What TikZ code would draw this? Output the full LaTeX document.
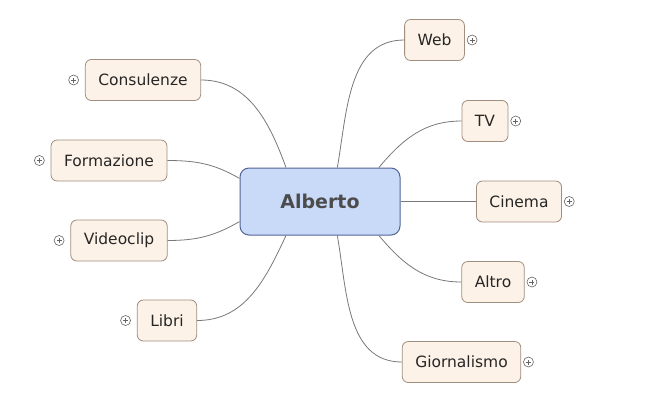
\documentclass[tikz,border=0pt]{standalone}
\usepackage{fontspec}
\setmainfont{DejaVu Sans}
\usepackage{xcolor}
\definecolor{rootfill}{RGB}{201,218,248}
\definecolor{rootline}{RGB}{82,100,150}
\definecolor{topicfill}{RGB}{253,242,231}
\definecolor{topicline}{RGB}{160,142,128}
\definecolor{branchgray}{RGB}{120,120,120}
\definecolor{plusgray}{RGB}{100,100,100}
\usetikzlibrary{positioning}

\begin{document}
\begin{tikzpicture}[
    x=1pt, y=-1pt,
    font=\fontsize{15.5}{18}\selectfont,
    rootnode/.style={draw=rootline, line width=1pt, rectangle, rounded corners=9pt, fill=rootfill, minimum width=160pt, minimum height=67pt, text=black!70, font=\fontsize{19}{22}\selectfont\bfseries},
    topicnode/.style={draw=topicline, line width=0.8pt, rectangle, rounded corners=6pt, fill=topicfill, inner xsep=13pt, minimum height=41pt, text=black!85},
    branch/.style={draw=branchgray, line width=0.8pt},
    expander/.style={circle, draw=plusgray, fill=white, line width=0.6pt, minimum size=10pt, inner sep=0pt,
      path picture={\draw[plusgray, line width=0.7pt]
        ([xshift=-2.5pt]path picture bounding box.center) -- ([xshift=2.5pt]path picture bounding box.center)
        ([yshift=-2.5pt]path picture bounding box.center) -- ([yshift=2.5pt]path picture bounding box.center);}}
  ]
  \useasboundingbox (0,0) rectangle (659,416);

  % central topic
  \node (alberto) [rootnode] at (320,201.5) {Alberto};

  % left side
  \node (consulenze) [topicnode] at (143,80) {Consulenze};
  \node (formazione) [topicnode] at (109,160.5) {Formazione};
  \node (videoclip) [topicnode] at (119,240.5) {Videoclip};
  \node (libri) [topicnode] at (167,320.5) {Libri};

  % right side
  \node (web) [topicnode] at (434.5,40) {Web};
  \node (tv) [topicnode] at (485,121) {TV};
  \node (cinema) [topicnode] at (519,201.5) {Cinema};
  \node (altro) [topicnode] at (493,282) {Altro};
  \node (giornalismo) [topicnode] at (461.5,362) {Giornalismo};

  % collapse markers
  \node (consulenze_plus) [expander, left=6pt of consulenze] {};
  \node (formazione_plus) [expander, left=6pt of formazione] {};
  \node (videoclip_plus) [expander, left=6pt of videoclip] {};
  \node (libri_plus) [expander, left=6pt of libri] {};
  \node (web_plus) [expander, right=2pt of web] {};
  \node (tv_plus) [expander, right=2pt of tv] {};
  \node (cinema_plus) [expander, right=2pt of cinema] {};
  \node (altro_plus) [expander, right=2pt of altro] {};
  \node (giornalismo_plus) [expander, right=2pt of giornalismo] {};

  % branches
  \draw[branch] (alberto.135) to[out=110, in=0] (consulenze.east);
  \draw[branch] (alberto.164) to[out=150, in=0] (formazione.east);
  \draw[branch] (alberto.194) to[out=210, in=0] (videoclip.east);
  \draw[branch] (alberto.225) to[out=245, in=0] (libri.east);
  \draw[branch] (alberto.63) to[out=80, in=180] (web.west);
  \draw[branch] (alberto.30) to[out=50, in=180] (tv.west);
  \draw[branch] (alberto.east) -- (cinema.west);
  \draw[branch] (alberto.-30) to[out=-50, in=180] (altro.west);
  \draw[branch] (alberto.-63) to[out=-80, in=180] (giornalismo.west);

\end{tikzpicture}
\end{document}
